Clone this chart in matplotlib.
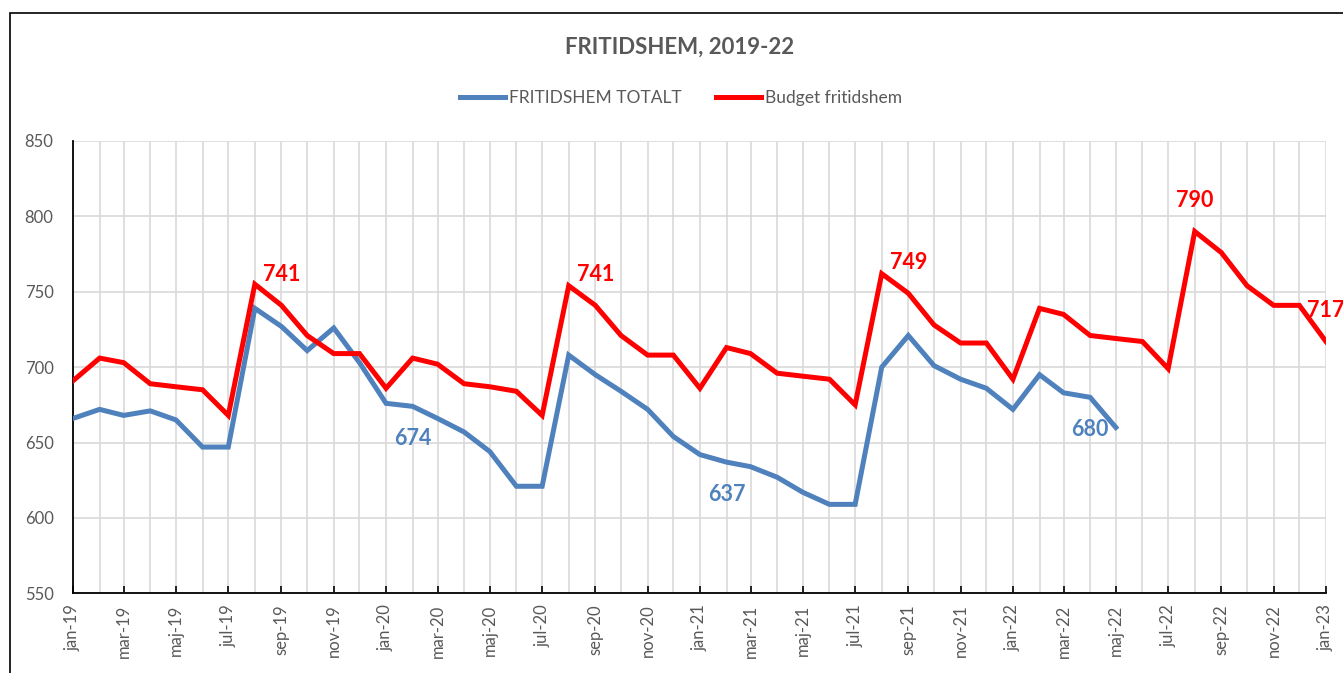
import datetime as dt
import matplotlib
matplotlib.use("Agg")
import matplotlib.pyplot as plt
import matplotlib.dates as mdates
from matplotlib.ticker import FuncFormatter, MultipleLocator
from matplotlib.patches import Rectangle

plt.rcParams["font.family"] = ["Lato", "DejaVu Sans"]

# månadsdata jan-19 .. jan-23
MONTHS_SV = ["jan", "feb", "mar", "apr", "maj", "jun",
             "jul", "aug", "sep", "okt", "nov", "dec"]
START_YEAR, N_MONTHS = 2019, 49

budget = [
    691, 706, 703, 689, 687, 685, 668, 755, 741, 721, 709, 709,
    686, 706, 702, 689, 687, 684, 668, 754, 741, 721, 708, 708,
    686, 713, 709, 696, 694, 692, 675, 762, 749, 728, 716, 716,
    692, 739, 735, 721, 719, 717, 699, 790, 776, 754, 741, 741,
    717,
]
totalt = [
    666, 672, 668, 671, 665, 647, 647, 739, 727, 711, 726, 703,
    676, 674, 666, 657, 644, 621, 621, 708, 695, 684, 672, 654,
    642, 637, 634, 627, 617, 609, 609, 700, 721, 701, 692, 686,
    672, 695, 683, 680, 660,
]
# index för utvalda datavärden
budget_labels = [8, 20, 32, 43, 48]
totalt_labels = [13, 25, 39]

BLUE, RED, GREY = "#4F81BD", "#FF0000", "#595959"

dates = [dt.date(START_YEAR + i // 12, i % 12 + 1, 1) for i in range(N_MONTHS)]

fig = plt.figure(figsize=(13.43, 6.73), dpi=100)
ax = fig.add_axes([0.0544, 0.1184, 0.9329, 0.6721])

ax.plot(dates[:len(totalt)], totalt, color=BLUE, lw=3.6, label="FRITIDSHEM TOTALT",
        solid_joinstyle="miter", zorder=3)
ax.plot(dates, budget, color=RED, lw=3.6, label="Budget fritidshem",
        solid_joinstyle="miter", zorder=4)

for i in budget_labels:
    ax.annotate(f"{budget[i]:.0f}", (dates[i], budget[i]), xytext=(0, 22),
                textcoords="offset points", ha="center", va="center",
                color=RED, fontsize=15.5, fontweight="bold", annotation_clip=False, zorder=5)
for i in totalt_labels:
    ax.annotate(f"{totalt[i]:.0f}", (dates[i], totalt[i]), xytext=(0, -23),
                textcoords="offset points", ha="center", va="center",
                color=BLUE, fontsize=15.5, fontweight="bold", zorder=5)

ax.set_xlim(dates[0], dates[-1])
ax.set_ylim(550, 850)
ax.yaxis.set_major_locator(MultipleLocator(50))

ax.xaxis.set_major_locator(mdates.MonthLocator(bymonth=[1, 3, 5, 7, 9, 11]))
ax.xaxis.set_minor_locator(mdates.MonthLocator())
ax.xaxis.set_major_formatter(FuncFormatter(
    lambda x, pos: (lambda d: f"{MONTHS_SV[d.month - 1]}-{d.year % 100:02d}")(mdates.num2date(x))))

ax.grid(True, which="both", axis="x", color="#D9D9D9", lw=1.2, zorder=0)
ax.grid(True, which="major", axis="y", color="#D9D9D9", lw=1.2, zorder=0)
ax.set_axisbelow(True)

for s in ["top", "right"]:
    ax.spines[s].set_visible(False)
for s in ["left", "bottom"]:
    ax.spines[s].set_color("black")
    ax.spines[s].set_linewidth(1.3)

ax.tick_params(axis="x", which="major", direction="in", length=5, width=1.2,
               colors="black", labelcolor=GREY, labelsize=12, rotation=90, pad=8)
ax.tick_params(axis="x", which="minor", length=0)
ax.tick_params(axis="y", length=0, labelcolor=GREY, labelsize=12, pad=14)

fig.text(0.506, 0.930, "FRITIDSHEM, 2019-22", ha="center", va="center",
         fontsize=16, fontweight="bold", color=GREY)
fig.legend(loc="center", bbox_to_anchor=(0.507, 0.854), ncol=2, frameon=False,
           fontsize=12.5, handlelength=2.6, handletextpad=0.2, columnspacing=2.0,
           labelcolor=GREY)

# ram runt diagramytan
fig.add_artist(Rectangle((10 / 1343, -0.1), 1.2, 1.1 - 13 / 673, transform=fig.transFigure,
                         fill=False, edgecolor="black", lw=1.2))

plt.savefig("out.png", dpi=100)
